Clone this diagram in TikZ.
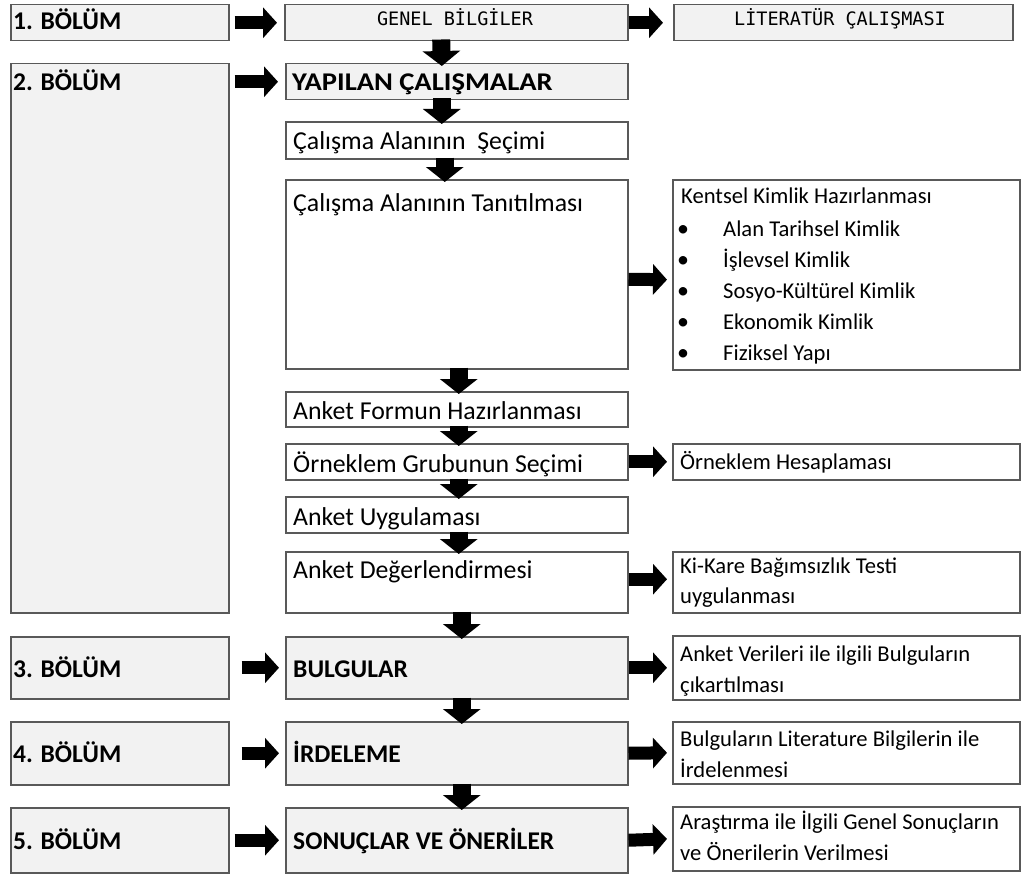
\documentclass[tikz,border=0pt]{standalone}
\usepackage{fontspec}
\setmainfont{Carlito}
\newfontfamily\monofam{DejaVu Sans Mono}
\usetikzlibrary{arrows.meta}
\begin{document}
\begin{tikzpicture}[x=1pt,y=-1pt,
  box/.style={draw=black!65, line width=1.5pt, inner sep=0pt, anchor=north west},
  gbox/.style={box, fill=black!5},
  wbox/.style={box, fill=white},
  lbl/.style={anchor=base west, inner sep=0pt, font=\fontsize{25.5}{30}\selectfont\bfseries},
  mtxt/.style={anchor=base west, inner sep=0pt, font=\fontsize{25.8}{30}\selectfont},
  rtxt/.style={anchor=base west, inner sep=0pt, font=\fontsize{22.6}{30}\selectfont},
  mono/.style={anchor=base, inner sep=0pt, font=\monofam\fontsize{18.5}{22}\selectfont},
  bul/.style={anchor=base, inner sep=0pt, font=\fontsize{24}{30}\selectfont},
  harrow/.style={line width=13pt, -{Triangle[length=14pt,width=30pt]}},
  varrow/.style={line width=18pt, -{Triangle[length=15pt,width=37pt]}, shorten <=-2pt, shorten >=-3pt},
]
\useasboundingbox (0,0) rectangle (1021,875);

% left column
\node[gbox, minimum width=218pt, minimum height=36pt]  (l1) at (10,4) {};
\node[gbox, minimum width=218pt, minimum height=549pt] (l2) at (10,63) {};
\node[gbox, minimum width=218pt, minimum height=62pt]  (l3) at (10,636) {};
\node[gbox, minimum width=218pt, minimum height=63pt]  (l4) at (10,721) {};
\node[gbox, minimum width=218pt, minimum height=65pt]  (l5) at (10,807) {};

% middle column
\node[gbox, minimum width=343pt, minimum height=36pt]  (m0) at (284,4) {};
\node[gbox, minimum width=342pt, minimum height=36pt]  (m1) at (285,63) {};
\node[wbox, minimum width=342pt, minimum height=37pt]  (m2) at (285,121) {};
\node[wbox, minimum width=342pt, minimum height=189pt] (m3) at (285,179) {};
\node[wbox, minimum width=342pt, minimum height=35pt]  (m4) at (285,391) {};
\node[wbox, minimum width=342pt, minimum height=36pt]  (m5) at (285,443) {};
\node[wbox, minimum width=342pt, minimum height=36pt]  (m6) at (285,496) {};
\node[wbox, minimum width=342pt, minimum height=61pt]  (m7) at (285,551) {};
\node[gbox, minimum width=342pt, minimum height=62pt]  (m8) at (285,636) {};
\node[gbox, minimum width=342pt, minimum height=63pt]  (m9) at (285,721) {};
\node[gbox, minimum width=342pt, minimum height=65pt]  (m10) at (285,807) {};

% right column
\node[gbox, minimum width=339pt, minimum height=36pt]  (r0) at (673,4) {};
\node[wbox, minimum width=347pt, minimum height=190pt] (r1) at (672,179) {};
\node[wbox, minimum width=347pt, minimum height=36pt]  (r2) at (672,443) {};
\node[wbox, minimum width=347pt, minimum height=61pt]  (r3) at (672,551) {};
\node[wbox, minimum width=347pt, minimum height=64pt]  (r4) at (672,635) {};
\node[wbox, minimum width=347pt, minimum height=62pt]  (r5) at (672,721) {};
\node[wbox, minimum width=347pt, minimum height=64pt]  (r6) at (672,806) {};

% left labels
\node[lbl] (t1) at (13,30) {1. BÖLÜM};
\node[lbl] (t2) at (13,91) {2. BÖLÜM};
\node[lbl] (t3) at (13,677) {3. BÖLÜM};
\node[lbl] (t4) at (13,762) {4. BÖLÜM};
\node[lbl] (t5) at (13,849) {5. BÖLÜM};

% middle texts
\node[mono] (tm0) at (455,26) {GENEL BİLGİLER};
\node[lbl]  (tm1) at (292,91) {\addfontfeature{FakeStretch=1.12}YAPILAN ÇALIŞMALAR};
\node[mtxt] (tm2) at (293,149) {Çalışma Alanının\ \ Şeçimi};
\node[mtxt] (tm3) at (293,211) {Çalışma Alanının Tanıtılması};
\node[mtxt] (tm4) at (293,419) {Anket Formun Hazırlanması};
\node[mtxt] (tm5) at (293,472) {Örneklem Grubunun Seçimi};
\node[mtxt] (tm6) at (293,525) {Anket Uygulaması};
\node[mtxt] (tm7) at (293,578) {Anket Değerlendirmesi};
\node[lbl]  (tm8) at (293,677) {BULGULAR};
\node[lbl]  (tm9) at (293,762) {İRDELEME};
\node[lbl]  (tm10) at (293,849) {SONUÇLAR VE ÖNERİLER};

% right texts
\node[mono] (tr0) at (840,26) {LİTERATÜR ÇALIŞMASI};
\node[rtxt] (tr1) at (681,203) {Kentsel Kimlik Hazırlanması};
\node[bul] (b1) at (683,236) {•};
\node[rtxt] (tr1a) at (723,236) {Alan Tarihsel Kimlik};
\node[bul] (b2) at (683,267) {•};
\node[rtxt] (tr1b) at (723,267) {İşlevsel Kimlik};
\node[bul] (b3) at (683,298) {•};
\node[rtxt] (tr1c) at (723,298) {Sosyo-Kültürel Kimlik};
\node[bul] (b4) at (683,329) {•};
\node[rtxt] (tr1d) at (723,329) {Ekonomik Kimlik};
\node[bul] (b5) at (683,360) {•};
\node[rtxt] (tr1e) at (723,360) {Fiziksel Yapı};
\node[rtxt] (tr2) at (680,469) {Örneklem Hesaplaması};
\node[rtxt] (tr3a) at (680,573) {Ki-Kare Bağımsızlık Testi};
\node[rtxt] (tr3b) at (680,603) {uygulanması};
\node[rtxt] (tr4a) at (680,661) {Anket Verileri ile ilgili Bulguların};
\node[rtxt] (tr4b) at (680,692) {çıkartılması};
\node[rtxt] (tr5a) at (680,746) {Bulguların Literature Bilgilerin ile};
\node[rtxt] (tr5b) at (680,777) {İrdelenmesi};
\node[rtxt] (tr6a) at (680,829) {Araştırma ile İlgili Genel Sonuçların};
\node[rtxt] (tr6b) at (680,860) {ve Önerilerin Verilmesi};

% horizontal arrows left -> middle
\draw[harrow, shorten <=5pt, shorten >=7pt] (l1.east) -- (m0.west);
\draw[harrow, shorten <=5pt, shorten >=7pt] (l2.east |- m1.west) -- (m1.west);
\draw[harrow, shorten <=12pt, shorten >=6pt] (l3.east) -- (m8.west);
\draw[harrow, shorten <=12pt, shorten >=6pt] (l4.east) -- (m9.west);
\draw[harrow, shorten <=5pt, shorten >=6pt] (l5.east) -- (m10.west);

% horizontal arrows middle -> right
\draw[harrow, shorten >=10pt] (m0.east) -- (r0.west);
\draw[harrow, shorten >=5pt] ([yshift=-5pt]m3.east) -- ([yshift=-5pt]r1.west);
\draw[harrow, shorten >=5pt] (m5.east) -- (r2.west);
\draw[harrow, shorten >=5pt] ([yshift=3pt]m7.east) -- ([yshift=3pt]r3.west);
\draw[harrow, shorten >=5pt] (m8.east) -- (r4.west);
\draw[harrow, shorten >=5pt] (m9.east) -- (r5.west);
\draw[harrow, shorten >=5pt] (m10.east) -- (r6.west);

% vertical arrows
\draw[varrow] ([xshift=-15pt]m0.south) -- ([xshift=-15pt]m1.north);
\draw[varrow] ([xshift=-15pt]m1.south) -- ([xshift=-15pt]m2.north);
\draw[varrow] ([xshift=-12pt]m2.south) -- ([xshift=-12pt]m3.north);
\draw[varrow] ([xshift=2pt]m3.south) -- ([xshift=2pt]m4.north);
\draw[varrow] ([xshift=2pt]m4.south) -- ([xshift=2pt]m5.north);
\draw[varrow] ([xshift=2pt]m5.south) -- ([xshift=2pt]m6.north);
\draw[varrow] ([xshift=2pt]m6.south) -- ([xshift=2pt]m7.north);
\draw[varrow] ([xshift=5pt]m7.south) -- ([xshift=5pt]m8.north);
\draw[varrow] ([xshift=5pt]m8.south) -- ([xshift=5pt]m9.north);
\draw[varrow] ([xshift=5pt]m9.south) -- ([xshift=5pt]m10.north);
\end{tikzpicture}
\end{document}
